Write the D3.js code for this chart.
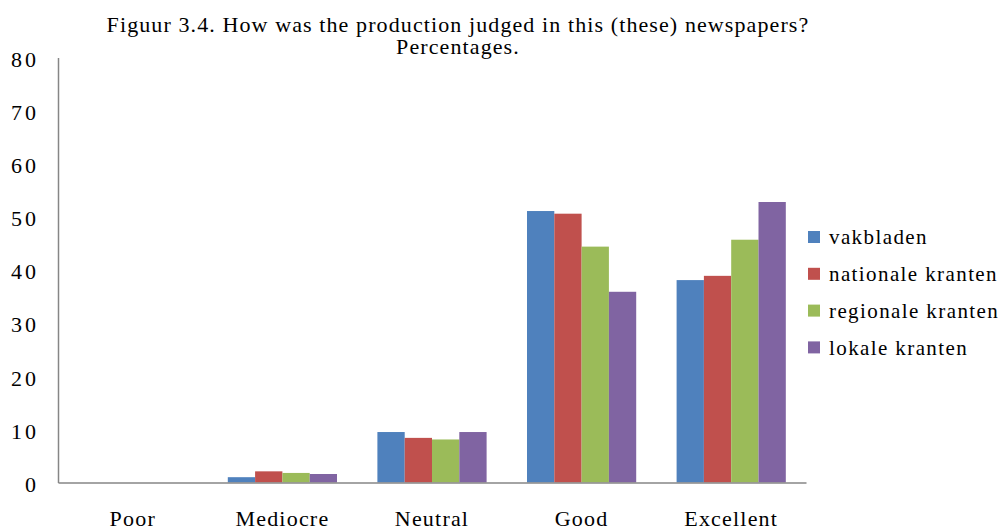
<!DOCTYPE html>
<html>
<head>
<meta charset="utf-8">
<script src="https://cdn.jsdelivr.net/npm/d3@7"></script>
<style>
  body { margin: 0; background: #fff; }
  svg text { font-family: "Liberation Serif", serif; fill: #000; }
</style>
</head>
<body>
<div id="chart"></div>
<script>
// data
var categories = ['Poor', 'Mediocre', 'Neutral', 'Good', 'Excellent'];
var seriesNames = ['vakbladen', 'nationale kranten', 'regionale kranten', 'lokale kranten'];
var vakbladen = [0, 1.0, 9.5, 51.1, 38.1];
var nationale = [0, 2.1, 8.4, 50.6, 38.9];
var regionale = [0, 1.8, 8.1, 44.4, 45.7];
var lokale = [0, 1.6, 9.5, 35.9, 52.8];
var yTicks = [0, 10, 20, 30, 40, 50, 60, 70, 80];
var colors = ['#4F81BD', '#C0504D', '#9BBB59', '#8064A2'];

var series = [vakbladen, nationale, regionale, lokale];
var serifFont = '"Liberation Serif", serif';

var width = 1003, height = 529;

var svg = d3.select('#chart').append('svg')
    .attr('width', width)
    .attr('height', height);

var x0 = d3.scaleBand().domain(categories).range([58, 806])
    .paddingInner(0.27).paddingOuter(0.135);
var x1 = d3.scaleBand().domain(d3.range(seriesNames.length)).range([0, x0.bandwidth()]);
var y = d3.scaleLinear().domain([0, 80]).range([482.5, 57.5]);

// title
var title = svg.append('text')
    .attr('text-anchor', 'middle')
    .attr('font-size', 22)
    .attr('letter-spacing', 1.1)
    .style('font-family', serifFont);
title.append('tspan').attr('x', 458).attr('y', 32)
    .text('Figuur 3.4. How was the production judged in this (these) newspapers?');
title.append('tspan').attr('x', 458).attr('y', 54)
    .text('Percentages.');

// bars
var groups = svg.selectAll('g.cat')
    .data(categories)
    .enter()
    .append('g')
    .attr('class', 'cat')
    .attr('transform', function(d) { return 'translate(' + x0(d) + ',0)'; });

groups.selectAll('rect')
    .data(function(d, i) { return series.map(function(s, j) { return {j: j, v: s[i]}; }); })
    .enter()
    .append('rect')
    .attr('x', function(d) { return x1(d.j); })
    .attr('width', x1.bandwidth())
    .attr('y', function(d) { return y(d.v); })
    .attr('height', function(d) { return y(0) - y(d.v); })
    .style('fill', function(d) { return colors[d.j]; });

// y axis
var yAxis = svg.append('g')
    .attr('transform', 'translate(58,0)')
    .call(d3.axisLeft(y).tickValues(yTicks).tickSize(0).tickPadding(19));
yAxis.attr('font-family', serifFont);
yAxis.select('.domain').attr('stroke', '#868686').attr('stroke-width', 1.5);
yAxis.selectAll('text').attr('font-size', 22).attr('dy', '0.4em')
    .attr('letter-spacing', 3)
    .style('font-family', serifFont);

// x axis
var xAxis = svg.append('g')
    .attr('transform', 'translate(0,' + y(0) + ')')
    .call(d3.axisBottom(x0).tickSize(0));
xAxis.attr('font-family', serifFont);
xAxis.select('.domain').attr('stroke', '#868686').attr('stroke-width', 1.5);
xAxis.selectAll('text').attr('font-size', 22)
    .attr('y', 43.5).attr('dy', 0)
    .attr('letter-spacing', 1.2)
    .style('font-family', serifFont);

// legend
var legend = svg.selectAll('g.legend')
    .data(seriesNames)
    .enter()
    .append('g')
    .attr('class', 'legend')
    .attr('transform', function(d, i) { return 'translate(808,' + (237 + i * 36.8) + ')'; });

legend.append('rect')
    .attr('x', 0).attr('y', -6)
    .attr('width', 12).attr('height', 12)
    .style('fill', function(d, i) { return colors[i]; });

legend.append('text')
    .attr('x', 21).attr('y', 0).attr('dy', '0.35em')
    .attr('font-size', 21)
    .attr('letter-spacing', 1.4)
    .style('font-family', serifFont)
    .text(function(d) { return d; });
</script>
</body>
</html>
